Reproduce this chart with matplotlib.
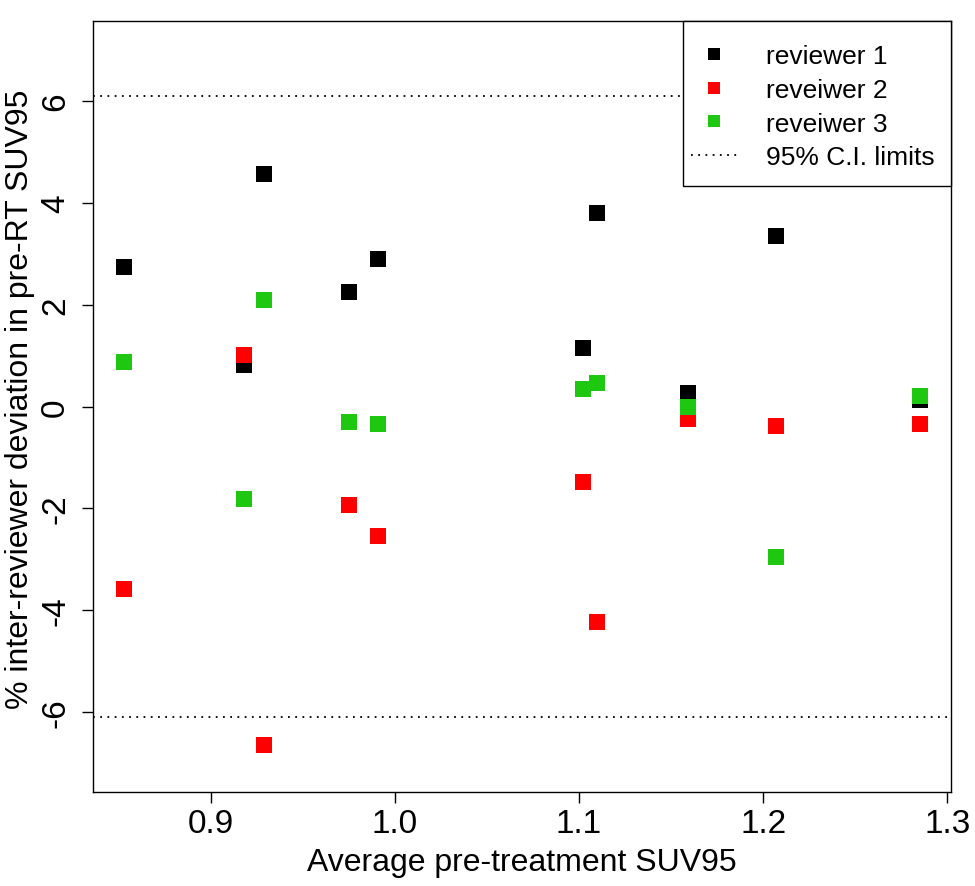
import matplotlib
matplotlib.use("Agg")
import matplotlib.pyplot as plt
from matplotlib.lines import Line2D
from matplotlib.patches import Rectangle

plt.rcParams['font.family'] = ['Liberation Sans', 'DejaVu Sans']

# Data
avg_suv95 = [0.853, 0.918, 0.929, 0.975, 0.991, 1.102, 1.110, 1.159, 1.207, 1.285]
reviewer1 = [2.73, 0.81, 4.56, 2.24, 2.90, 1.15, 3.79, 0.27, 3.34, 0.13]
reviewer2 = [-3.59, 1.02, -6.64, -1.93, -2.55, -1.49, -4.23, -0.25, -0.38, -0.34]
reviewer3 = [0.87, -1.82, 2.09, -0.30, -0.34, 0.34, 0.46, 0.00, -2.95, 0.21]
ci_limit = 6.1
series_labels = ["reviewer 1", "reveiwer 2", "reveiwer 3"]
ci_label = "95% C.I. limits"
x_ticks = [0.9, 1.0, 1.1, 1.2, 1.3]
y_ticks = [-6, -4, -2, 0, 2, 4, 6]

colors = ['#000000', '#FF0000', '#1FC810']

W, H = 975, 887
fig = plt.figure(figsize=(W / 100, H / 100), dpi=100)
L, R, T, B = 93.3, 951.0, 21.7, 793.3
ax = fig.add_axes([L / W, 1 - B / H, (R - L) / W, (B - T) / H])

for ys, c in zip([reviewer1, reviewer2, reviewer3], colors):
    ax.plot(avg_suv95, ys, linestyle='none', marker='s', markersize=11,
            color=c, markeredgewidth=0, zorder=3)

for v in (ci_limit, -ci_limit):
    ax.axhline(v, color='black', lw=1.3, linestyle=(0, (1, 3)), zorder=2)

ax.set_xlim(0.8363, 1.302)
ax.set_ylim(-7.57, 7.57)
ax.set_xticks(x_ticks)
ax.set_xticklabels([f"{t:.1f}" for t in x_ticks])
ax.set_yticks(y_ticks)
ax.set_yticklabels([str(t) for t in y_ticks], rotation=90, va='center')

ax.tick_params(axis='both', direction='out', length=8, width=1, labelsize=24)
ax.tick_params(axis='x', pad=3)
ax.tick_params(axis='y', pad=8)
for s in ax.spines.values():
    s.set_linewidth(1)

ax.set_xlabel("Average pre-treatment SUV95", fontsize=23, va='center')
ax.xaxis.set_label_coords(0.5, -0.09)
ax.set_ylabel("% inter-reviewer deviation in pre-RT SUV95", fontsize=23, va='center')
ax.yaxis.set_label_coords(-0.0855, 0.51)

# legend box (frame drawn separately to match the reference padding)
box_left = (683.3 - L) / (R - L)
box_bottom = (B - 186.7) / (B - T)
ax.add_patch(Rectangle((box_left, box_bottom), 1 - box_left, 1 - box_bottom,
                       transform=ax.transAxes, facecolor='white',
                       edgecolor='black', lw=1, zorder=4, clip_on=False))

handles = [Line2D([], [], linestyle='none', marker='s', markersize=9, color=c,
                  markeredgewidth=0) for c in colors]
handles.append(Line2D([], [], color='black', lw=1.3, linestyle=(0, (1, 3))))
leg = ax.legend(handles, series_labels + [ci_label], loc='upper left',
                bbox_to_anchor=((690.7 - L) / (R - L), (B - 45.0) / (B - T)),
                borderaxespad=0, borderpad=0, fontsize=19, frameon=False,
                handlelength=1.74, handletextpad=1.1, labelspacing=0.37)
leg.set_zorder(5)

fig.savefig("out.png", dpi=100)
